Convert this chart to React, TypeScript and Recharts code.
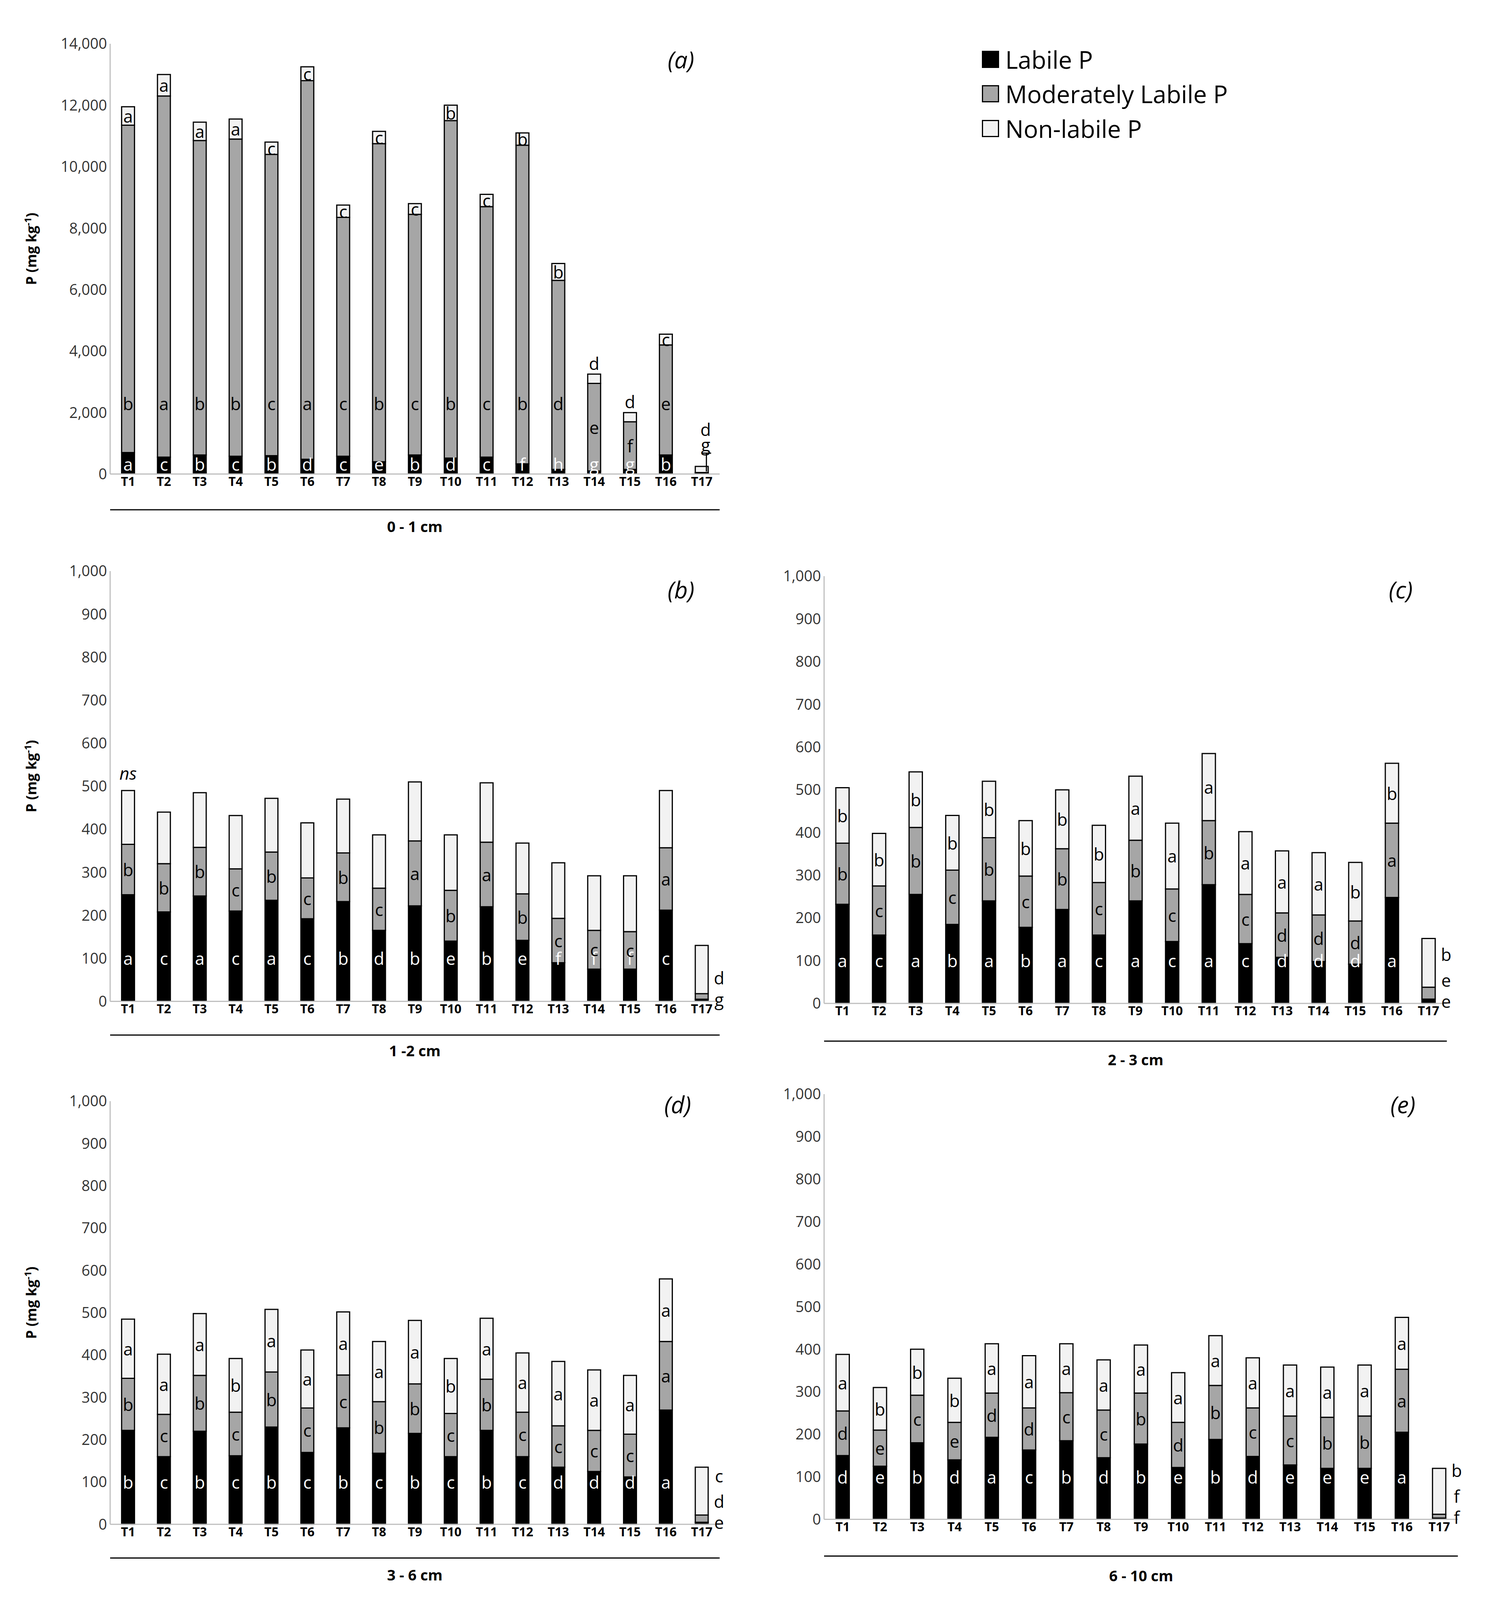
import React from 'react';
import { BarChart, Bar, XAxis, YAxis, LabelList } from 'recharts';

const S = 3838 / 1360;
const SY = S * 0.925;
const categories = ['T1','T2','T3','T4','T5','T6','T7','T8','T9','T10','T11','T12','T13','T14','T15','T16','T17'];

// Panel (a) 0-1 cm: labile, top of moderate, total
const aLab = [700,550,620,580,600,480,580,400,620,520,550,330,150,100,150,620,30];
const aModTop = [11350,12300,10850,10900,10400,12800,8350,10750,8450,11500,8700,10700,6300,2950,1700,4200,50];
const aTot = [11950,13000,11450,11550,10800,13250,8750,11150,8800,12000,9100,11100,6850,3250,2000,4550,250];
const aLabL = ['a','c','b','c','b','d','c','e','b','d','c','f','h','g','g','b','g'];
const aModL = ['b','a','b','b','c','a','c','b','c','b','c','b','d','e','f','e',''];
const aNonL = ['a','a','a','a','c','c','c','c','c','b','c','b','b','d','d','c','d'];

const bLab = [248,208,245,210,235,192,232,165,222,140,220,142,90,75,75,212,5];
const bModTop = [365,320,358,308,347,287,345,263,373,258,370,250,193,165,162,357,18];
const bTot = [490,440,485,432,472,415,470,387,510,387,508,368,322,292,292,490,130];
const bLabL = ['a','c','a','c','a','c','b','d','b','e','b','e','f','f','f','c',''];
const bModL = ['b','b','b','c','b','c','b','c','a','b','a','b','c','c','c','a','g'];
const bNonL = ['ns','','','','','','','','','','','','','','','','d'];

const cLab = [232,160,255,185,240,178,220,160,240,145,278,140,108,98,92,248,10];
const cModTop = [375,275,412,312,388,298,362,283,382,268,428,255,212,207,193,422,38];
const cTot = [505,398,542,440,520,428,500,417,532,422,585,402,357,353,330,562,152];
const cLabL = ['a','c','a','b','a','b','a','c','a','c','a','c','d','d','d','a','e'];
const cModL = ['b','c','b','c','b','c','b','c','b','c','b','c','d','d','d','a','e'];
const cNonL = ['b','b','b','b','b','b','b','b','a','a','a','a','a','a','b','b','b'];

const dLab = [222,160,220,162,230,170,228,168,215,160,222,160,135,125,112,270,5];
const dModTop = [345,260,352,265,360,275,353,290,332,262,343,265,233,222,213,432,22];
const dTot = [485,402,498,392,508,412,502,432,482,392,487,405,385,365,352,580,135];
const dLabL = ['b','c','b','c','b','c','b','c','b','c','b','c','d','d','d','a','e'];
const dModL = ['b','c','b','c','b','c','c','b','b','c','b','c','c','c','c','a','d'];
const dNonL = ['a','a','a','b','a','a','a','a','a','b','a','a','a','a','a','a','c'];

const eLab = [150,125,180,140,193,163,185,145,177,122,188,148,128,120,120,205,3];
const eModTop = [255,210,292,228,297,262,298,257,297,228,315,262,243,240,243,353,12];
const eTot = [388,310,400,332,413,385,413,375,410,345,432,380,363,358,363,475,120];
const eLabL = ['d','e','b','d','a','c','b','d','b','e','b','d','e','e','e','a','f'];
const eModL = ['d','e','c','e','d','d','c','c','b','d','b','c','c','b','b','a','f'];
const eNonL = ['a','b','b','b','a','a','a','a','a','a','a','a','a','a','a','a','b'];

const ticksA = [0,2000,4000,6000,8000,10000,12000,14000];
const ticksB = [0,100,200,300,400,500,600,700,800,900,1000];

const FONT = '"Open Sans", "Noto Sans", sans-serif';

function build(lab: number[], modTop: number[], tot: number[]) {
  return categories.map((c, i) => ({ name: c, lab: lab[i], mod: modTop[i] - lab[i], non: tot[i] - modTop[i] }));
}

type PanelProps = {
  lab: number[]; modTop: number[]; tot: number[];
  labL: string[]; modL: string[]; nonL: string[];
  max: number; ticks: number[];
  pl: number; pr: number; pt: number; pb: number; ly: number; ty: number;
  title: string; tag: string; tagX: number; tagY: number; yTitle: boolean; big: boolean; twoRight?: boolean;
};

function Panel(p: PanelProps) {
  const plotL = p.pl * S, plotR = p.pr * S, plotT = p.pt * SY, plotB = p.pb * SY, lineY = p.ly * SY;
  const yw = 200, mt = 40;
  const plotH = plotB - plotT;
  const h1 = lineY - plotB;
  const width = yw + (plotR - plotL) + 20;
  const height = mt + plotH + h1 + 12;
  const ppu = plotH / p.max;
  const baseY = mt + plotH;
  const data = build(p.lab, p.modTop, p.tot);
  const fs = 44;

  const mk = (kind: 'lab' | 'mod' | 'non') => (props: any) => {
    const x = Number(props.x), y = Number(props.y), w = Number(props.width), h = Number(props.height);
    const i = props.index;
    const cx = x + w / 2;
    const letters = kind === 'lab' ? p.labL : kind === 'mod' ? p.modL : p.nonL;
    const t = letters[i];
    if (!t) return null;
    let tx = cx, ty = y + h / 2, fill = '#000', style: any = {};
    if (i === 16) {
      if (p.big) {
        tx = cx + 10;
        ty = kind === 'non' ? baseY - 1460 * ppu : baseY - 960 * ppu;
        return (
          <g>
            <text x={tx} y={ty} fontSize={fs} fontFamily={FONT} textAnchor="middle" dominantBaseline="central">{t}</text>
            {kind === 'lab' && <line x1={tx + 2} y1={ty + 22} x2={tx + 2} y2={y - 4} stroke="#000" strokeWidth={3} />}
            {kind === 'lab' && <line x1={tx - 10} y1={ty + 22} x2={tx + 14} y2={ty + 22} stroke="#000" strokeWidth={3} />}
          </g>
        );
      }
      tx = x + w + 28;
      const v = kind === 'non' ? (p.twoRight ? 55 : 115) : kind === 'mod' ? (p.twoRight ? 5 : 55) : 5;
      ty = baseY - v * ppu;
    } else if (kind === 'lab') {
      ty = baseY - (p.big ? 330 : 100) * ppu; fill = '#fff';
    } else if (kind === 'mod' && p.big) {
      ty = Math.max(baseY - 2300 * ppu, y + h / 2);
    } else if (kind === 'non') {
      if (t === 'ns') { ty = y - 45; style = { fontStyle: 'italic' }; }
      else if (p.big && (i === 13 || i === 14)) ty = y - 28;
    }
    return <text x={tx} y={ty} fontSize={fs} fontFamily={FONT} fill={fill} textAnchor="middle" dominantBaseline="central" style={style}>{t}</text>;
  };

  return (
    <>
      <div style={{ position: 'absolute', left: plotL - yw, top: plotT - mt }}>
        <BarChart width={width} height={height} data={data} margin={{ top: mt, right: 20, left: 0, bottom: 0 }} barCategoryGap="32%">
          <XAxis dataKey="name" height={h1} tickLine={false} axisLine={{ stroke: '#bfbfbf', strokeWidth: 3 }}
            tick={{ fontSize: 32, fontWeight: 700, fill: '#000', fontFamily: FONT }} interval={0} />
          <XAxis dataKey="name" xAxisId="line" height={12} tick={false} tickLine={false} axisLine={{ stroke: '#000', strokeWidth: 3 }} />
          <YAxis width={yw} domain={[0, p.max]} ticks={p.ticks} tickLine={false} axisLine={{ stroke: '#bfbfbf', strokeWidth: 3 }}
            tickFormatter={(v: number) => v.toLocaleString('en-US')} tick={{ fontSize: 38, fill: '#333', fontFamily: FONT }} />
          <Bar dataKey="lab" stackId="s" fill="#000" stroke="#000" strokeWidth={3} isAnimationActive={false}>
            <LabelList dataKey="lab" content={mk('lab')} />
          </Bar>
          <Bar dataKey="mod" stackId="s" fill="#a6a6a6" stroke="#000" strokeWidth={3} isAnimationActive={false}>
            <LabelList dataKey="mod" content={mk('mod')} />
          </Bar>
          <Bar dataKey="non" stackId="s" fill="#f2f2f2" stroke="#000" strokeWidth={3} isAnimationActive={false}>
            <LabelList dataKey="non" content={mk('non')} />
          </Bar>
        </BarChart>
      </div>
      <div style={{ position: 'absolute', left: (plotL + plotR) / 2, top: p.ty * SY, transform: 'translate(-50%,-50%)', fontFamily: FONT, fontWeight: 700, fontSize: 38, whiteSpace: 'nowrap' }}>{p.title}</div>
      <div style={{ position: 'absolute', left: p.tagX * S, top: p.tagY * SY, transform: 'translate(-50%,-50%)', fontFamily: FONT, fontStyle: 'italic', fontSize: 60 }}>{p.tag}</div>
      {p.yTitle && (
        <div style={{ position: 'absolute', left: (p.pl - 72) * S, top: (plotT + plotB) / 2 - 10 * SY, transform: 'translate(-50%,-50%) rotate(-90deg)', fontFamily: FONT, fontWeight: 700, fontSize: 36, whiteSpace: 'nowrap' }}>
          P (mg kg<sup style={{ fontSize: 24 }}>-1</sup>)
        </div>
      )}
    </>
  );
}

const legendItems = [
  { label: 'Labile P', fill: '#000' },
  { label: 'Moderately Labile P', fill: '#a6a6a6' },
  { label: 'Non-labile P', fill: '#f2f2f2' },
];

export default function App() {
  return (
    <div style={{ position: 'relative', width: 3822, height: 4050, background: '#fff' }}>
      <Panel lab={aLab} modTop={aModTop} tot={aTot} labL={aLabL} modL={aModL} nonL={aNonL} max={14000} ticks={ticksA}
        pl={97} pr={650} pt={40} pb={462} ly={497} ty={513} title="0 - 1 cm" tag="(a)" tagX={615} tagY={55} yTitle big />
      <Panel lab={bLab} modTop={bModTop} tot={bTot} labL={bLabL} modL={bModL} nonL={bNonL} max={1000} ticks={ticksB}
        pl={97} pr={650} pt={557} pb={979} ly={1012} ty={1027} title="1 -2 cm" tag="(b)" tagX={615} tagY={575} yTitle big={false} twoRight />
      <Panel lab={cLab} modTop={cModTop} tot={cTot} labL={cLabL} modL={cModL} nonL={cNonL} max={1000} ticks={ticksB}
        pl={745} pr={1310} pt={562} pb={981} ly={1018} ty={1036} title="2 - 3 cm" tag="(c)" tagX={1268} tagY={575} yTitle={false} big={false} />
      <Panel lab={dLab} modTop={dModTop} tot={dTot} labL={dLabL} modL={dModL} nonL={dNonL} max={1000} ticks={ticksB}
        pl={97} pr={650} pt={1077} pb={1492} ly={1525} ty={1541} title="3 - 6 cm" tag="(d)" tagX={612} tagY={1080} yTitle big={false} />
      <Panel lab={eLab} modTop={eModTop} tot={eTot} labL={eLabL} modL={eModL} nonL={eNonL} max={1000} ticks={ticksB}
        pl={745} pr={1320} pt={1070} pb={1487} ly={1523} ty={1542} title="6 - 10 cm" tag="(e)" tagX={1270} tagY={1080} yTitle={false} big={false} />
      {legendItems.map((it, i) => (
        <div key={it.label} style={{ position: 'absolute', left: 888 * S, top: (55 + i * 34) * SY, transform: 'translateY(-50%)', display: 'flex', alignItems: 'center', fontFamily: FONT, fontSize: 62 }}>
          <div style={{ width: 44, height: 44, background: it.fill, border: '3px solid #000', marginRight: 16, boxSizing: 'border-box' }} />
          <span>{it.label}</span>
        </div>
      ))}
    </div>
  );
}
